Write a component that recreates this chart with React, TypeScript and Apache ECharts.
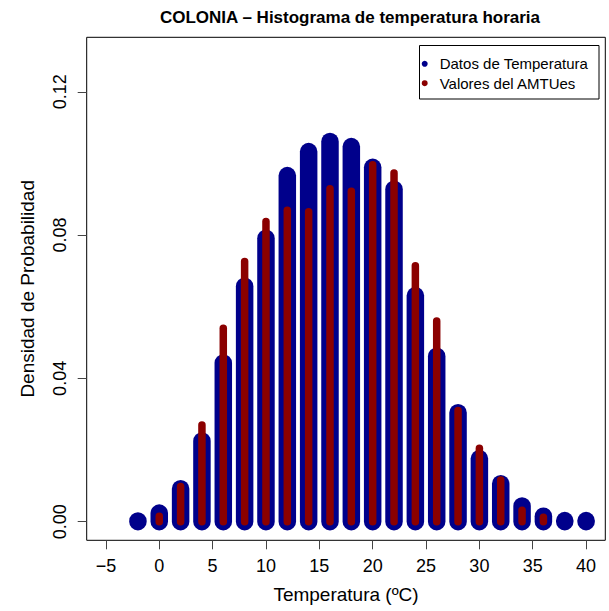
import React, { useEffect, useRef } from "react";
import * as echarts from "echarts";

const temps = [-2, 0, 2, 4, 6, 8, 10, 12, 14, 16, 18, 20, 22, 24, 26, 28, 30, 32, 34, 36, 38, 40];
const datosTemperatura = [0.0002, 0.0024, 0.0092, 0.0225, 0.0443, 0.0657, 0.0791, 0.0966, 0.1033, 0.1061, 0.1047, 0.0989, 0.0928, 0.0631, 0.0462, 0.0304, 0.0176, 0.0106, 0.0044, 0.0015, 0.0003, 0.0003];
const valoresAMTUes: (number | null)[] = [0.0, 0.0015, 0.0098, 0.027, 0.054, 0.0726, 0.0838, 0.0869, 0.0865, 0.0929, 0.0922, 0.0996, 0.0973, 0.0714, 0.056, 0.031, 0.0205, 0.0116, 0.0032, 0.0012, null, null];
const xTicks = [-5, 0, 5, 10, 15, 20, 25, 30, 35, 40];
const yTicks = [0, 0.04, 0.08, 0.12];

const FONT = "'Liberation Sans', Arial, Helvetica, sans-serif";
const BLUE = "#00008B";
const RED = "#8B0000";

function stickSeries(name: string, xs: number[], ys: (number | null)[], color: string, width: number) {
  const data: number[][] = [];
  xs.forEach((x, i) => {
    const y = ys[i];
    if (y !== null && y !== undefined) data.push([x, y]);
  });
  return {
    type: "custom",
    name,
    data,
    encode: { x: 0, y: 1 },
    itemStyle: { color },
    clip: true,
    renderItem: (params: any, api: any) => {
      const x = api.value(0);
      const y = api.value(1);
      const p0 = api.coord([x, 0]);
      const p1 = api.coord([x, y]);
      return {
        type: "line",
        shape: { x1: p0[0], y1: p0[1], x2: p1[0], y2: p1[1] },
        style: { stroke: color, lineWidth: width, lineCap: "round", fill: null },
      };
    },
  };
}

export default function App() {
  const ref = useRef<HTMLDivElement>(null);
  useEffect(() => {
    if (!ref.current) return;
    const chart = echarts.init(ref.current, undefined, { renderer: "svg" });
    chart.setOption({
      animation: false,
      backgroundColor: "#ffffff",
      textStyle: { fontFamily: FONT },
      title: {
        text: "COLONIA – Histograma de temperatura horaria",
        left: 350,
        top: 9,
        textAlign: "center",
        padding: 0,
        textStyle: { fontFamily: FONT, fontSize: 17, fontWeight: "bold", color: "#000" },
      },
      grid: {
        left: 86.7,
        right: 3.7,
        top: 37.3,
        bottom: 70.7,
        show: true,
        borderColor: "#000",
        borderWidth: 1,
        backgroundColor: "transparent",
      },
      legend: {
        orient: "vertical",
        left: 421.7,
        top: 56.3,
        padding: 0,
        icon: "circle",
        itemWidth: 20,
        itemHeight: 6,
        itemGap: 4.4,
        textStyle: { fontFamily: FONT, fontSize: 15, color: "#000", lineHeight: 14 },
        data: ["Datos de Temperatura", "Valores del AMTUes"],
      },
      graphic: [
        {
          type: "rect",
          shape: { x: 419.5, y: 45.5, width: 179.5, height: 53.5 },
          style: { fill: "none", stroke: "#000", lineWidth: 1 },
          silent: true,
        },
      ],
      xAxis: {
        type: "value",
        min: -6.8,
        max: 41.8,
        name: "Temperatura (ºC)",
        nameLocation: "middle",
        nameGap: 45,
        nameTextStyle: { fontFamily: FONT, fontSize: 19, color: "#000" },
        axisLine: { show: false, onZero: false },
        splitLine: { show: false },
        axisTick: { show: true, customValues: xTicks, length: 9, lineStyle: { color: "#444" } },
        axisLabel: {
          customValues: xTicks,
          margin: 17,
          fontFamily: FONT,
          fontSize: 18,
          color: "#000",
          formatter: (v: number) => (v < 0 ? "−" + Math.abs(v) : String(v)),
        },
      },
      yAxis: {
        type: "value",
        min: -0.0052,
        max: 0.1352,
        name: "Densidad de Probabilidad",
        nameLocation: "middle",
        nameRotate: 90,
        nameGap: 50,
        nameTextStyle: { fontFamily: FONT, fontSize: 19, color: "#000" },
        axisLine: { show: false, onZero: false },
        splitLine: { show: false },
        axisTick: { show: true, customValues: yTicks, length: 9, lineStyle: { color: "#444" } },
        axisLabel: {
          customValues: yTicks,
          margin: 18,
          rotate: 90,
          fontFamily: FONT,
          fontSize: 18,
          color: "#000",
          formatter: (v: number) => v.toFixed(2),
        },
      },
      series: [
        stickSeries("Datos de Temperatura", temps, datosTemperatura, BLUE, 17.5),
        stickSeries("Valores del AMTUes", temps, valoresAMTUes, RED, 7.5),
      ],
    });
    return () => chart.dispose();
  }, []);
  return <div ref={ref} style={{ position: "fixed", left: 0, top: 0, width: 609, height: 611 }} />;
}
